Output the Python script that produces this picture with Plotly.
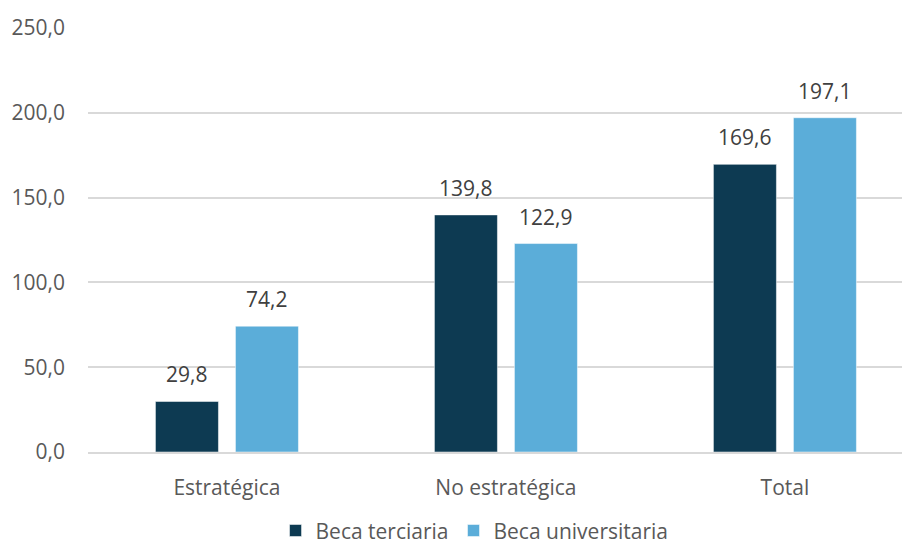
import plotly.graph_objects as go

categories = ["Estratégica", "No estratégica", "Total"]
beca_terciaria = [29.8, 139.8, 169.6]
beca_universitaria = [74.2, 122.9, 197.1]
y_ticks = [0, 50, 100, 150, 200, 250]
y_tick_labels = ["0,0", "50,0", "100,0", "150,0", "200,0", "250,0"]

def fmt(v):
    return f"{v:.1f}".replace(".", ",")

font_family = "Open Sans"
text_color = "#595959"
label_color = "#404040"
fs = 21

fig = go.Figure()
fig.add_trace(go.Bar(
    x=categories, y=beca_terciaria, name="Beca terciaria",
    marker=dict(color="#0D3A52", line=dict(color="#FFFFFF", width=0.5)),
))
fig.add_trace(go.Bar(
    x=categories, y=beca_universitaria, name="Beca universitaria",
    marker=dict(color="#5BADD9", line=dict(color="#FFFFFF", width=0.5)),
))

annotations = []
for series, shift in ((beca_terciaria, -40), (beca_universitaria, 40)):
    for cat, v in zip(categories, series):
        annotations.append(dict(
            x=cat, y=v, xref="x", yref="y", text=fmt(v), showarrow=False,
            xanchor="center", yanchor="bottom", xshift=shift, yshift=11,
            font=dict(size=fs, color=label_color, family=font_family),
        ))

# the page body has an 8px default margin, so margins are offset by 8px
fig.update_layout(
    width=910, height=544,
    margin=dict(l=80, r=0, t=20, b=100, autoexpand=False),
    paper_bgcolor="white", plot_bgcolor="white",
    barmode="group", bargap=0.4265, bargroupgap=0.2125,
    font=dict(family=font_family, size=fs, color=text_color),
    showlegend=True,
    legend=dict(orientation="h", x=0.4657, xanchor="center", y=-0.186, yanchor="middle",
                font=dict(size=fs, color=text_color),
                traceorder="normal"),
    annotations=annotations,
)
fig.update_xaxes(
    range=[-0.498, 2.477], showgrid=False, showline=True, linecolor="#D9D9D9", linewidth=1.5,
    ticks="", ticklabelstandoff=16, tickfont=dict(size=fs, color=text_color), automargin=False,
)
fig.update_yaxes(
    range=[0, 250], tickvals=y_ticks, ticktext=y_tick_labels,
    showgrid=True, gridcolor="#D9D9D9", gridwidth=1.5, zeroline=False,
    ticks="", ticklabelstandoff=22, tickfont=dict(size=fs, color=text_color), automargin=False,
)

fig.write_html("out.html")
